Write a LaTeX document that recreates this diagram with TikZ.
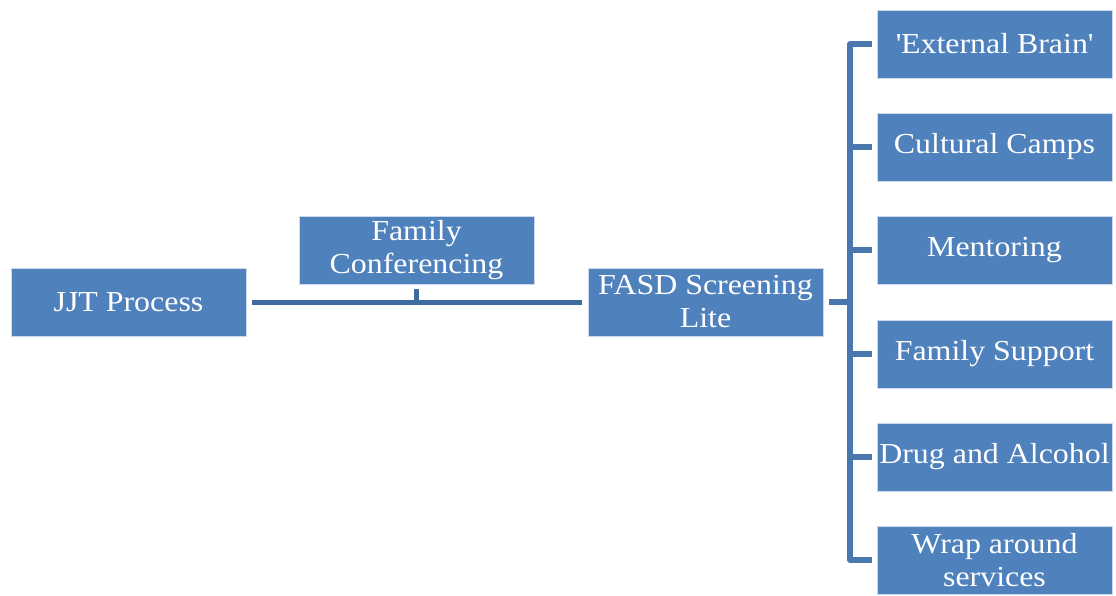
\documentclass[tikz,border=0pt]{standalone}
\usepackage{fontspec}
\setmainfont[FakeStretch=1.1]{Liberation Serif}
\begin{document}
\begin{tikzpicture}[x=1pt,y=-1pt,
  box/.style={fill=boxblue, draw=white!70!boxblue, line width=0.8pt, minimum width=235pt, minimum height=68pt, inner sep=0pt, text=white, align=center, font=\fontsize{29}{33}\selectfont},
  conn/.style={draw=lineblue, line width=5pt},
  brk/.style={draw=brkblue, line width=5.5pt, line join=round}]
\definecolor{boxblue}{HTML}{4F81BD}
\definecolor{lineblue}{HTML}{3F6C9E}
\definecolor{brkblue}{HTML}{4A78AE}
\useasboundingbox (0,0) rectangle (1116,595);
\node[box] (jjt) at (128.5,302) {JJT Process};
\node[box] (fc) at (416.5,250) {Family\\Conferencing};
\node[box] (fasd) at (705.5,302) {FASD Screening\\Lite};
\node[box] (r1) at (994.5,44) {\textquotesingle External Brain\textquotesingle};
\node[box] (r2) at (994.5,147) {Cultural Camps};
\node[box] (r3) at (994.5,250) {Mentoring};
\node[box] (r4) at (994.5,354) {Family Support};
\node[box] (r5) at (994.5,457) {Drug and Alcohol};
\node[box] (r6) at (994.5,560) {Wrap around\\services};
\coordinate (bx) at (850,302);
\draw[conn, shorten <=6pt, shorten >=6pt] (jjt.east) -- (fasd.west);
\draw[conn, shorten <=5pt] (fc.south) -- (fc.south |- jjt.east);
\draw[brk, shorten <=6pt] (fasd.east) -- (bx);
\draw[brk, shorten <=5pt, shorten >=5pt] (r1.west) -- (bx |- r1.west) -- (bx |- r6.west) -- (r6.west);
\draw[brk, shorten >=5pt] (bx |- r2.west) -- (r2.west);
\draw[brk, shorten >=5pt] (bx |- r3.west) -- (r3.west);
\draw[brk, shorten >=5pt] (bx |- r4.west) -- (r4.west);
\draw[brk, shorten >=5pt] (bx |- r5.west) -- (r5.west);
\end{tikzpicture}
\end{document}
